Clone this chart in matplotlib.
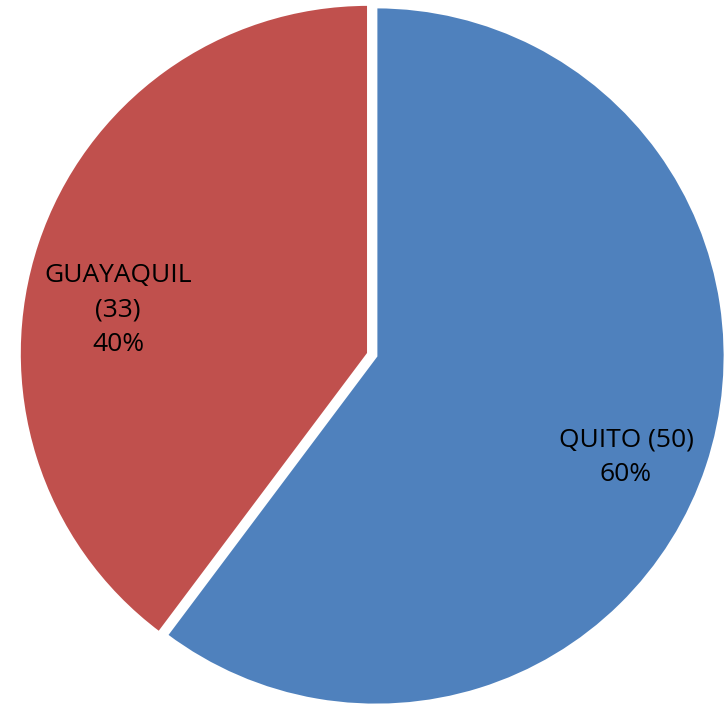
import matplotlib.pyplot as plt

# datos
ciudades = ['QUITO', 'GUAYAQUIL']
valores = [50, 33]
porcentajes = ['60%', '40%']
colores = ['#4F81BD', '#C0504D']

fig = plt.figure(figsize=(7.26, 7.07), dpi=100)
ax = fig.add_axes([0, 0, 1, 1])

# pie en coordenadas de pixel (explode en pixeles tambien)
wedges, _ = ax.pie(valores, colors=colores, startangle=90, counterclock=False,
                   explode=[0, 8], center=(376, 351), radius=349,
                   wedgeprops=dict(edgecolor='white', linewidth=2))
ax.set_xlim(0, 726)
ax.set_ylim(0, 707)
ax.set_aspect('equal')
ax.axis('off')

fuente = dict(fontsize=19, family=['Open Sans', 'DejaVu Sans'], ha='center', va='center',
              linespacing=1.5)
ax.text(626, 707 - 457, '%s (%d)\n%s' % (ciudades[0], valores[0], porcentajes[0]), **fuente)
ax.text(118, 707 - 310, '%s\n(%d)\n%s' % (ciudades[1], valores[1], porcentajes[1]), **fuente)

plt.savefig('out.png', dpi=100)
